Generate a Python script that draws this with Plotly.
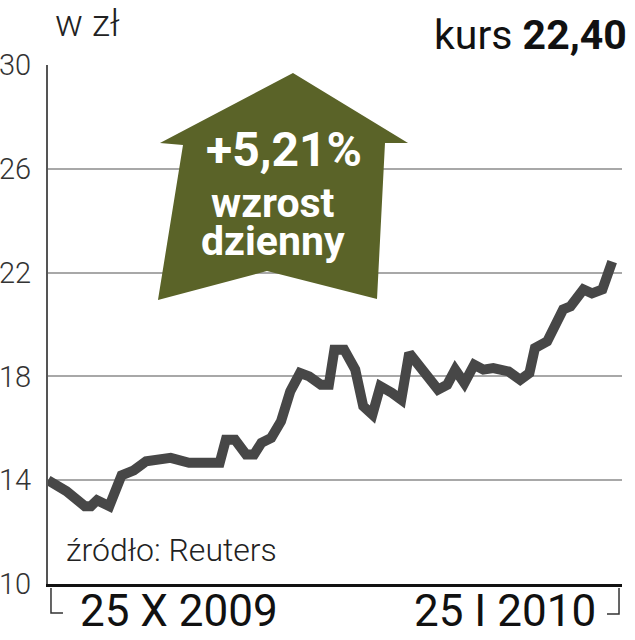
import plotly.graph_objects as go

# kurs akcji, w zł; dzień = dni od 25 X 2009
dni = [0, 3, 6, 7, 8, 10, 12, 14, 16, 20, 23, 28, 29, 30.5, 32.3, 33.6, 34.8, 36.4,
       38.0, 39.5, 41.1, 42.6, 44.5, 45.8, 46.7, 48.3, 50.1, 51.4, 52.9, 54.2, 56.1,
       57.6, 58.9, 60.8, 63.6, 65.1, 66.4, 67.9, 69.5, 71.0, 72.6, 75.1, 77.0, 78.5,
       79.4, 81.4, 84.0, 85.2, 87.3, 88.7, 90.4, 92.0]
kurs = [14.0, 13.58, 13.0, 13.0, 13.23, 13.0, 14.19, 14.38, 14.73, 14.86, 14.67, 14.67,
        15.56, 15.56, 14.99, 14.99, 15.44, 15.63, 16.27, 17.42, 18.13, 18.0, 17.68,
        17.68, 19.03, 19.03, 18.26, 16.85, 16.53, 17.62, 17.36, 17.10, 18.9, 18.38,
        17.49, 17.68, 18.26, 17.74, 18.45, 18.26, 18.32, 18.19, 17.87, 18.13,
        19.09, 19.35, 20.58, 20.7, 21.35, 21.2, 21.35, 22.42]

y_ticks = [10, 14, 18, 22, 26, 30]
daty = ["25 X 2009", "25 I 2010"]
zmiana = "+5,21%"
opis = ["wzrost", "dzienny"]
ostatni = "22,40"

W, H = 635, 640
L, R, T, B = 48, 13, 65, 56
pw, ph = W - L - R, H - T - B


def px(x):
    return (x - L) / pw


def py(y):
    return (H - B - y) / ph


fig = go.Figure()
fig.add_trace(go.Scatter(x=dni, y=kurs, mode="lines",
                         line=dict(color="#474747", width=10, shape="linear"),
                         hoverinfo="skip", showlegend=False))

# strzalka
arrow = [(293, 73), (408, 143), (385, 143), (377, 299), (267, 271),
         (158, 300), (183, 145), (160, 143)]
path = "M " + " L ".join(f"{px(x):.4f},{py(y):.4f}" for x, y in arrow) + " Z"
fig.add_shape(type="path", path=path, xref="paper", yref="paper",
              fillcolor="#5a6328", line=dict(width=0), layer="above")

# klamra pod osia
fig.add_shape(type="path", xref="paper", yref="paper",
              path=f"M {px(51):.4f},{py(588):.4f} L {px(51):.4f},{py(613):.4f} L {px(63):.4f},{py(613):.4f}",
              line=dict(color="#333", width=1.5))
fig.add_shape(type="path", xref="paper", yref="paper",
              path=f"M {px(619):.4f},{py(588):.4f} L {px(619):.4f},{py(614):.4f} L {px(607):.4f},{py(614):.4f}",
              line=dict(color="#333", width=1.5))

ann = []
ann.append(dict(text="w zł", x=px(53), y=py(24), xanchor="left", yanchor="middle",
                font=dict(family="Roboto", size=37, color="#222", weight=300)))
ann.append(dict(text=f"kurs <b>{ostatni}</b>", x=px(629), y=py(35), xanchor="right", yanchor="middle",
                font=dict(family="Roboto", size=41, color="#111")))
ann.append(dict(text=zmiana, x=px(284), y=py(149), xanchor="center", yanchor="middle",
                font=dict(family="Roboto", size=48, color="white", weight=700)))
ann.append(dict(text="<br>".join(f"<span style='font-size:41px'>{t}</span>" for t in opis),
                x=px(273), y=py(222), xanchor="center", yanchor="middle", align="center",
                font=dict(family="Roboto", size=29, color="white", weight=700)))
ann.append(dict(text="źródło: Reuters", x=px(64), y=py(550), xanchor="left", yanchor="middle",
                font=dict(family="Roboto", size=32, color="#222", weight=300)))
ann.append(dict(text=daty[0], x=px(78), y=py(611), xanchor="left", yanchor="middle",
                font=dict(family="Roboto", size=44, color="#111")))
ann.append(dict(text=daty[1], x=px(598), y=py(611), xanchor="right", yanchor="middle",
                font=dict(family="Roboto", size=44, color="#111")))
for a in ann:
    a.update(xref="paper", yref="paper", showarrow=False)

fig.update_layout(
    width=W, height=H,
    margin=dict(l=L, r=R, t=T, b=B, autoexpand=False),
    paper_bgcolor="white", plot_bgcolor="white",
    annotations=ann,
    xaxis=dict(range=[0, 93.6], showgrid=False, zeroline=False, showticklabels=False,
               showline=True, linecolor="#111", linewidth=3, ticks="", automargin=False),
    yaxis=dict(range=[10, 30], tickvals=y_ticks, showgrid=True, gridcolor="#a8a8a8",
               gridwidth=2, zeroline=False, showline=True, linecolor="#555", linewidth=2,
               ticks="", ticklabelstandoff=9, automargin=False,
               tickfont=dict(family="Roboto", size=29, color="#333", weight=300)),
)

fig.write_html("out.html", config={"displayModeBar": False},
               post_script="document.body.style.margin='0';")
